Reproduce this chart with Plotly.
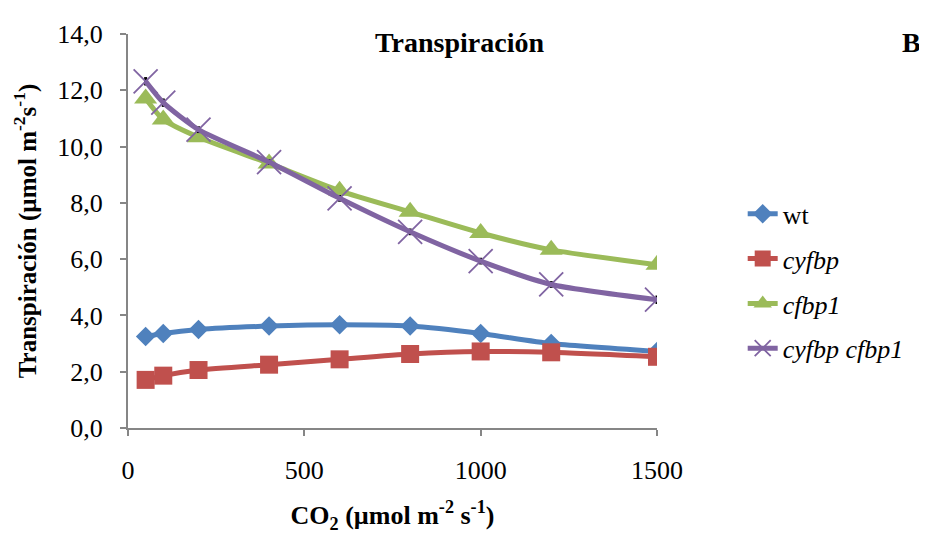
import plotly.graph_objects as go

co2 = [50, 100, 200, 400, 600, 800, 1000, 1200, 1500]
wt = [3.25, 3.36, 3.50, 3.62, 3.67, 3.62, 3.36, 3.00, 2.72]
cyfbp = [1.71, 1.86, 2.06, 2.25, 2.44, 2.63, 2.72, 2.69, 2.53]
cfbp1 = [11.71, 10.96, 10.33, 9.40, 8.43, 7.68, 6.93, 6.33, 5.80]
cyfbp_cfbp1 = [12.32, 11.56, 10.60, 9.45, 8.16, 6.97, 5.93, 5.10, 4.56]
err_double = [0.15, 0.15, 0.12, 0.1, 0.12, 0.12, 0.12, 0.12, 0.15]

names = ["wt", "<i>cyfbp</i>", "<i>cfbp1</i>", "<i>cyfbp cfbp1</i>"]
colors = ["#4F81BD", "#C0504D", "#9BBB59", "#8064A2"]

FONT = "'Liberation Serif', 'Times New Roman', Times, 'DejaVu Serif', serif"

fig = go.Figure()
fig.add_trace(go.Scatter(x=co2, y=wt, name=names[0], mode="lines+markers",
                         line=dict(color=colors[0], width=5, shape="spline", smoothing=0.6),
                         marker=dict(symbol="diamond", size=15, color=colors[0]),
                         legendgroup="a"))
fig.add_trace(go.Scatter(x=co2, y=cyfbp, name=names[1], mode="lines+markers",
                         line=dict(color=colors[1], width=5, shape="spline", smoothing=0.6),
                         marker=dict(symbol="square", size=18, color=colors[1]),
                         legendgroup="b"))
fig.add_trace(go.Scatter(x=co2, y=cfbp1, name=names[2], mode="lines+markers",
                         line=dict(color=colors[2], width=5, shape="spline", smoothing=0.6),
                         marker=dict(symbol="triangle-up", size=20, color=colors[2]),
                         legendgroup="c"))
fig.add_trace(go.Scatter(x=co2, y=cyfbp_cfbp1, name=names[3], mode="lines+markers",
                         line=dict(color=colors[3], width=5, shape="spline", smoothing=0.6),
                         marker=dict(symbol="x-thin-open", size=24,
                                     line=dict(color=colors[3], width=1.8)),
                         error_y=dict(type="data", array=err_double, color="black",
                                      thickness=3, width=0),
                         legendgroup="d"))

axis_common = dict(showgrid=False, zeroline=False, showline=True,
                   linecolor="#868686", linewidth=2, ticks="outside",
                   tickcolor="#868686", tickwidth=2, ticklen=6,
                   tickfont=dict(family=FONT, size=26, color="black"))

fig.update_layout(
    width=919, height=531,
    margin=dict(l=120, r=270, t=14, b=111),
    paper_bgcolor="white", plot_bgcolor="white",
    separators=",.",
    font=dict(family=FONT, color="black"),
    xaxis=dict(range=[0, 1500], tickvals=[0, 500, 1000, 1500], ticklabelstandoff=12,
               title=dict(text="<b>CO<sub>2</sub> (µmol m<sup>-2</sup> s<sup>-1</sup>)</b>",
                          font=dict(family=FONT, size=26), standoff=22),
               **axis_common),
    yaxis=dict(range=[0, 14], dtick=2, tickformat=".1f", ticklabelstandoff=12,
               title=dict(text="<b>Transpiración (µmol m<sup>-2</sup>s<sup>-1</sup>)</b>",
                          font=dict(family=FONT, size=25), standoff=14),
               **axis_common),
    legend=dict(x=1.162, y=0.603, xanchor="left", yanchor="top",
                font=dict(family=FONT, size=26, color="black"),
                tracegroupgap=8, bgcolor="rgba(0,0,0,0)"),
    annotations=[
        dict(text="<b>Transpiración</b>", xref="paper", yref="paper",
             x=0.626, y=0.978, xanchor="center", yanchor="middle", showarrow=False,
             font=dict(family=FONT, size=28, color="black")),
        dict(text="<b>B</b>", xref="paper", yref="paper",
             x=1.482, y=0.978, xanchor="center", yanchor="middle", showarrow=False,
             font=dict(family=FONT, size=28, color="black")),
    ],
)

fig.write_html("out.html")
